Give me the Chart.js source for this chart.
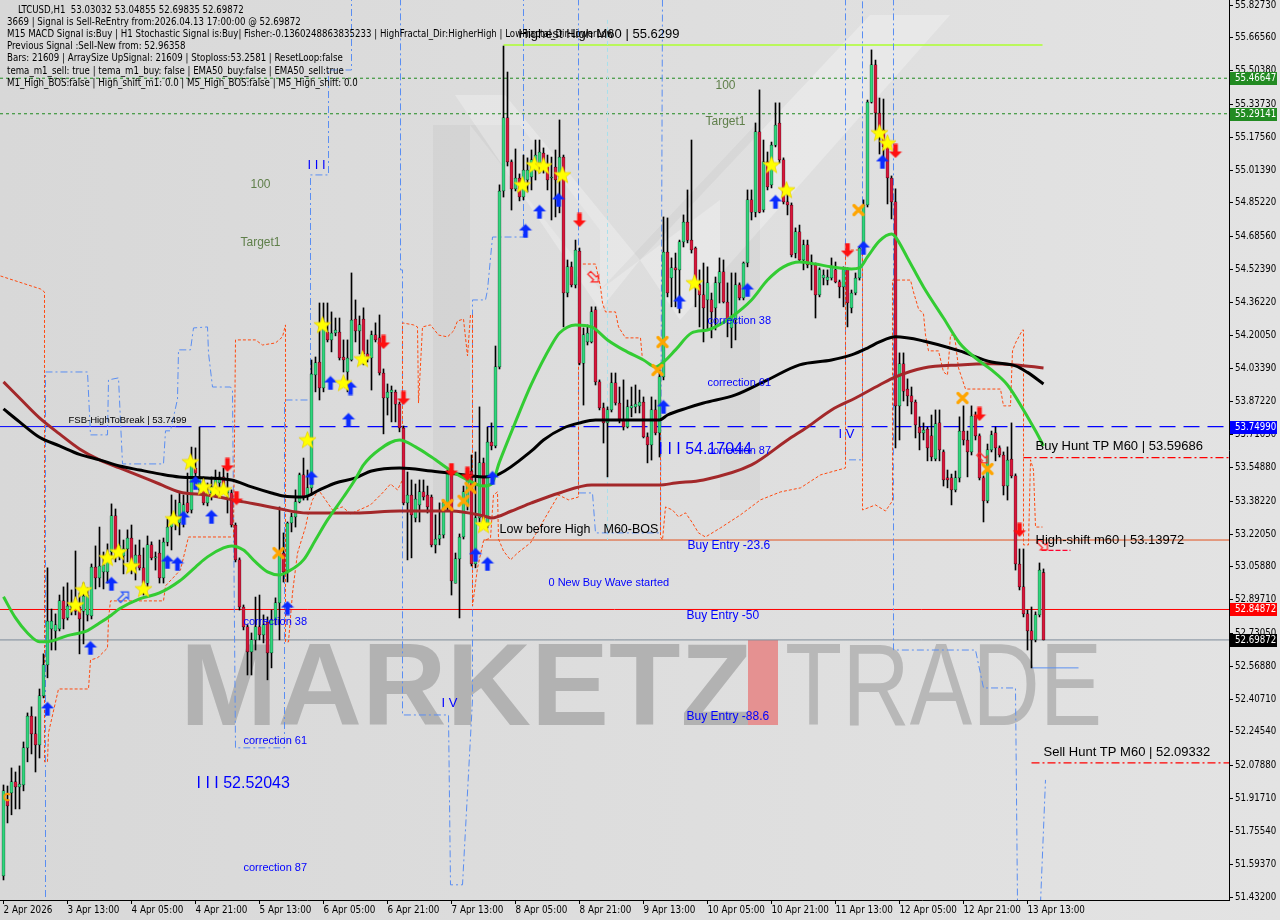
<!DOCTYPE html>
<html><head><meta charset="utf-8">
<script src="https://cdn.jsdelivr.net/npm/chart.js@4.4.1/dist/chart.umd.min.js"></script>
<style>html,body{margin:0;padding:0;background:#dcdcdc;overflow:hidden}#wrap{width:1280px;height:920px}</style>
</head><body><div id="wrap"><canvas id="c" width="1280" height="920"></canvas></div>
<script>
// ---------- DATA ----------
const candleOpen = [51.536,51.910,51.945,51.999,51.974,51.984,52.167,52.324,52.236,52.181,52.423,52.576,52.753,52.743,52.753,52.891,52.807,52.861,52.901,52.861,52.841,52.822,52.817,53.058,53.004,53.034,53.034,53.132,53.310,53.137,53.113,53.147,53.201,53.073,53.117,53.054,52.979,53.167,53.103,53.127,53.004,53.181,53.255,53.310,53.275,53.315,53.374,53.339,53.546,53.438,53.453,53.374,53.423,53.438,53.472,53.502,53.423,53.423,53.265,53.093,52.861,52.763,52.640,52.699,52.763,52.724,52.787,52.635,52.797,52.881,53.127,53.043,53.275,53.305,53.379,53.512,53.403,53.448,54.004,54.068,53.940,54.216,54.177,54.211,54.216,54.093,54.019,54.078,54.280,54.221,54.280,54.108,54.088,54.202,54.187,54.014,53.891,53.920,53.920,53.861,53.743,53.374,53.413,53.300,53.364,53.428,53.413,53.403,53.167,53.196,53.216,53.374,53.526,52.979,53.098,53.206,53.364,53.531,53.073,53.300,53.571,53.260,53.674,53.655,54.044,54.911,55.271,55.054,54.921,54.975,54.882,54.965,54.980,55.014,55.049,55.098,55.029,54.975,55.029,54.980,55.078,54.408,54.537,54.448,54.615,54.063,54.167,54.167,54.325,53.970,53.842,53.768,53.832,53.965,53.866,53.783,53.748,53.842,53.847,53.852,53.871,53.699,53.659,53.832,53.719,53.995,54.610,54.482,54.532,54.522,54.660,54.758,54.669,54.630,54.448,54.399,54.374,54.374,54.335,54.458,54.512,54.364,54.236,54.275,54.448,54.384,54.556,54.867,54.807,55.202,54.817,55.054,54.941,55.137,55.246,55.064,54.857,54.842,54.605,54.709,54.571,54.645,54.546,54.546,54.399,54.482,54.472,54.482,54.522,54.463,54.438,54.522,54.335,54.408,54.482,54.630,54.842,55.349,55.532,55.295,55.211,55.128,54.975,54.857,53.852,54.059,53.935,53.901,53.871,53.748,53.719,53.738,53.704,53.591,53.768,53.625,53.497,53.497,53.438,53.497,53.728,53.684,53.625,53.802,53.704,53.497,53.384,53.635,53.719,53.645,53.610,53.457,53.590,53.507,53.073,52.960,52.827,52.743,52.699,52.822,53.03032];
const candleHigh = [51.984,51.979,52.068,52.048,52.078,52.196,52.339,52.369,52.320,52.457,52.630,53.054,52.851,52.827,52.920,52.960,52.980,52.945,53.137,52.930,52.980,52.955,53.073,53.162,53.255,53.132,53.172,53.369,53.344,53.241,53.191,53.241,53.265,53.167,53.191,53.152,53.211,53.182,53.132,53.191,53.201,53.295,53.413,53.388,53.423,53.413,53.521,53.649,53.645,53.748,53.502,53.472,53.502,53.536,53.526,53.546,53.521,53.438,53.275,53.103,52.871,52.773,52.733,52.910,52.920,52.822,52.812,52.846,52.906,53.354,53.226,53.280,53.324,53.438,53.521,53.595,53.536,54.078,54.093,54.359,54.359,54.359,54.315,54.285,54.285,54.177,54.177,54.507,54.374,54.295,54.335,54.177,54.221,54.261,54.300,54.034,53.960,53.950,53.930,53.871,53.753,53.526,53.487,53.467,53.487,53.487,53.457,53.413,53.315,53.374,53.388,53.536,53.536,53.127,53.221,53.457,53.546,53.610,53.625,53.847,53.595,53.748,53.768,54.147,54.941,55.625,55.497,55.064,55.118,54.995,55.088,55.074,55.113,55.162,55.162,55.123,55.088,55.078,55.113,55.261,55.088,54.571,54.561,54.669,54.630,54.236,54.251,54.340,54.340,53.980,53.866,53.847,54.014,54.014,53.945,53.980,53.881,53.945,53.955,53.930,53.896,53.719,53.896,53.881,54.029,54.783,54.778,54.581,54.605,54.669,54.793,54.916,55.162,54.635,54.522,54.556,54.537,54.408,54.487,54.581,54.571,54.458,54.507,54.507,54.458,54.561,54.916,54.916,55.246,55.409,55.162,55.103,55.152,55.345,55.345,55.074,54.916,54.852,54.729,54.743,54.669,54.669,54.596,54.556,54.532,54.522,54.522,54.581,54.561,54.472,54.537,54.532,54.423,54.507,54.635,54.867,55.359,55.606,55.556,55.369,55.364,55.147,54.985,54.921,54.113,54.113,53.985,53.945,53.881,53.798,53.768,53.748,53.807,53.832,53.832,53.635,53.536,53.516,53.531,53.798,53.852,53.728,53.852,53.822,53.714,53.507,53.664,53.728,53.748,53.655,53.625,53.650,53.768,53.517,53.147,53.147,52.846,52.861,52.837,53.078,53.04855];
const candleLow = [51.516,51.797,51.837,51.866,51.866,51.955,52.098,52.137,52.048,52.117,52.413,52.512,52.649,52.649,52.743,52.753,52.797,52.822,52.822,52.630,52.679,52.792,52.802,52.950,52.960,52.950,52.979,53.098,53.083,53.093,53.024,53.083,53.024,52.994,53.043,52.920,52.960,53.093,53.043,52.979,52.979,53.162,53.142,53.241,53.216,53.255,53.324,53.324,53.453,53.423,53.364,53.359,53.388,53.403,53.423,53.423,53.324,53.255,53.083,52.846,52.748,52.526,52.526,52.649,52.699,52.684,52.502,52.561,52.773,52.699,52.984,52.984,53.231,53.255,53.374,53.388,53.388,53.413,53.921,53.881,53.921,54.167,54.118,54.197,54.078,54.019,53.921,54.073,54.167,54.108,54.054,54.068,53.930,54.167,54.004,53.714,53.807,53.773,53.773,53.724,53.364,53.093,53.103,53.280,53.280,53.388,53.324,53.157,53.127,53.167,53.201,53.334,52.920,52.979,52.807,53.196,53.339,53.063,53.054,53.280,53.251,53.251,53.635,53.645,54.034,54.881,55.034,54.817,54.911,54.862,54.867,54.906,54.916,54.965,54.999,54.999,54.916,54.768,54.783,54.803,54.241,54.389,54.438,54.433,54.054,53.856,54.152,54.162,53.955,53.832,53.669,53.502,53.822,53.856,53.768,53.733,53.743,53.798,53.817,53.817,53.694,53.571,53.585,53.709,53.600,53.980,54.389,54.340,54.340,54.310,54.635,54.655,54.605,54.340,54.241,54.167,54.226,54.187,54.226,54.359,54.359,54.192,54.138,54.177,54.374,54.374,54.537,54.768,54.783,54.803,54.807,54.916,54.926,55.128,55.049,54.847,54.793,54.586,54.581,54.561,54.522,54.532,54.423,54.285,54.389,54.448,54.448,54.472,54.458,54.384,54.340,54.241,54.310,54.399,54.472,54.620,54.832,55.344,55.196,55.093,55.054,54.847,54.773,53.645,53.684,53.876,53.852,53.812,53.694,53.635,53.684,53.581,53.581,53.581,53.581,53.457,53.448,53.364,53.428,53.477,53.659,53.502,53.610,53.684,53.487,53.280,53.374,53.625,53.581,53.600,53.413,53.388,53.497,53.043,52.945,52.812,52.649,52.561,52.689,52.812,52.69835];
const candleClose = [51.955,51.881,51.999,51.974,51.989,52.167,52.324,52.236,52.181,52.423,52.576,52.792,52.792,52.773,52.891,52.802,52.866,52.881,52.841,52.802,52.915,52.920,53.058,53.004,53.063,53.068,53.122,53.310,53.137,53.162,53.147,53.201,53.073,53.117,53.054,52.979,53.167,53.103,53.108,53.004,53.181,53.255,53.310,53.285,53.374,53.364,53.329,53.571,53.521,53.502,53.374,53.423,53.453,53.487,53.502,53.438,53.438,53.265,53.093,52.861,52.763,52.640,52.699,52.763,52.724,52.773,52.635,52.797,52.881,53.127,53.034,53.275,53.305,53.379,53.512,53.403,53.448,54.009,54.064,53.940,54.266,54.177,54.211,54.226,54.088,54.078,54.088,54.275,54.221,54.251,54.108,54.088,54.202,54.177,54.014,53.891,53.920,53.930,53.861,53.743,53.374,53.413,53.315,53.393,53.428,53.403,53.354,53.167,53.196,53.216,53.374,53.521,52.989,53.098,53.206,53.428,53.531,53.073,53.300,53.571,53.260,53.674,53.655,54.044,54.911,55.271,55.054,54.921,54.975,54.882,55.014,55.014,55.064,55.088,55.103,55.014,54.965,54.980,54.965,55.078,54.408,54.537,54.448,54.620,54.063,54.202,54.211,54.315,53.970,53.842,53.768,53.832,53.965,53.866,53.783,53.748,53.847,53.852,53.861,53.871,53.699,53.659,53.832,53.719,53.995,54.610,54.408,54.532,54.522,54.660,54.758,54.669,54.620,54.448,54.399,54.335,54.458,54.315,54.458,54.512,54.364,54.275,54.290,54.448,54.384,54.556,54.867,54.807,55.202,54.807,55.054,54.931,55.137,55.236,55.064,54.857,54.842,54.596,54.709,54.571,54.645,54.546,54.561,54.399,54.522,54.497,54.487,54.532,54.463,54.438,54.522,54.359,54.408,54.482,54.630,54.842,55.349,55.532,55.295,55.211,55.128,54.975,54.857,53.852,54.059,53.925,53.901,53.871,53.758,53.719,53.733,53.645,53.601,53.763,53.635,53.487,53.487,53.438,53.497,53.728,53.684,53.625,53.802,53.704,53.497,53.384,53.635,53.709,53.645,53.610,53.457,53.585,53.507,53.073,52.960,52.827,52.743,52.699,52.822,53.043,52.69872];

const timeTickIndex = [0,16,32,48,64,80,96,112,128,144,160,176,192,208,224,240,256];
const timeTickLabels = ['2 Apr 2026','3 Apr 13:00','4 Apr 05:00','4 Apr 21:00','5 Apr 13:00','6 Apr 05:00','6 Apr 21:00','7 Apr 13:00','8 Apr 05:00','8 Apr 21:00','9 Apr 13:00','10 Apr 05:00','10 Apr 21:00','11 Apr 13:00','12 Apr 05:00','12 Apr 21:00','13 Apr 13:00'];
const priceTicks = [55.82730,55.66560,55.50380,55.33730,55.17560,55.01390,54.85220,54.68560,54.52390,54.36220,54.20050,54.03390,53.87220,53.71050,53.54880,53.38220,53.22050,53.05880,52.89710,52.73050,52.56880,52.40710,52.24540,52.07880,51.91710,51.75540,51.59370,51.43200];

const greenEMA = [[0,52.911],[3,52.807],[6,52.733],[9,52.690],[11,52.690],[16,52.720],[21,52.745],[24,52.782],[27,52.822],[29,52.852],[34,52.901],[39,52.930],[44,52.989],[48,53.058],[51,53.108],[55,53.152],[57,53.162],[60,53.142],[63,53.083],[66,53.034],[69,53.019],[71,53.034],[75,53.093],[78,53.191],[81,53.290],[85,53.403],[88,53.492],[90,53.561],[94,53.637],[99,53.684],[103,53.650],[107,53.600],[112,53.531],[116,53.487],[120,53.457],[122,53.467],[124,53.576],[128,53.773],[132,53.960],[137,54.152],[139,54.211],[143,54.251],[147,54.241],[151,54.177],[155,54.128],[160,54.078],[163,54.044],[165,54.068],[168,54.128],[172,54.211],[176,54.226],[178,54.241],[182,54.290],[187,54.374],[191,54.472],[195,54.537],[199,54.561],[203,54.551],[207,54.537],[212,54.527],[214,54.532],[216,54.586],[219,54.665],[222,54.699],[223,54.684],[226,54.581],[230,54.438],[235,54.285],[239,54.162],[243,54.088],[247,54.029],[251,53.955],[255,53.832],[258,53.729],[260,53.655]];
const blackMA = [[0,53.837],[4,53.773],[9,53.697],[14,53.655],[19,53.613],[24,53.586],[29,53.556],[34,53.536],[39,53.517],[44,53.502],[51,53.497],[57,53.487],[62,53.453],[67,53.423],[70,53.408],[75,53.403],[79,53.438],[83,53.472],[88,53.497],[92,53.531],[99,53.546],[107,53.531],[117,53.507],[120,53.502],[124,53.517],[132,53.630],[135,53.684],[140,53.743],[144,53.768],[148,53.783],[155,53.783],[164,53.783],[166,53.807],[171,53.842],[175,53.866],[183,53.906],[191,53.980],[199,54.054],[207,54.078],[212,54.103],[216,54.137],[219,54.167],[223,54.192],[230,54.172],[239,54.123],[247,54.068],[253,54.049],[256,54.017],[260,53.960]];
const brownMA = [[0,53.970],[4,53.891],[9,53.793],[14,53.714],[19,53.640],[24,53.586],[29,53.546],[34,53.507],[39,53.467],[44,53.428],[51,53.413],[60,53.379],[68,53.349],[76,53.324],[83,53.324],[88,53.324],[99,53.334],[112,53.334],[120,53.310],[122,53.300],[127,53.334],[132,53.374],[139,53.423],[147,53.462],[155,53.462],[164,53.462],[168,53.472],[175,53.487],[187,53.561],[196,53.684],[201,53.748],[207,53.832],[213,53.891],[219,53.955],[223,53.995],[230,54.039],[239,54.054],[247,54.059],[253,54.054],[260,54.039]];

const orangeTrail = [[-0.75,54.492],[9.25,54.428],[10.25,54.413],[10.25,52.098],[11,52.098],[11.25,52.241],[13.75,52.457],[21.25,52.457],[21.75,52.600],[23.5,52.610],[26,52.659],[26.25,52.802],[26.75,52.891],[40,52.891],[40.5,52.965],[44.25,53.044],[46.25,53.206],[57.5,53.206],[58,54.177],[63,54.177],[64.75,54.152],[68,54.162],[69.75,54.192],[70.5,54.251],[70.5,52.689],[71.25,52.689],[72.25,52.930],[73.5,53.127],[75.5,53.255],[76.25,53.324],[77.25,53.389],[78.75,53.438],[80.5,53.389],[82.25,53.339],[84.75,53.354],[86.75,53.320],[91.75,53.364],[95,53.428],[96.75,53.467],[98.5,53.438],[99.75,53.487],[99.75,54.261],[102.5,54.251],[103.5,54.241],[103.75,53.866],[104.75,54.241],[106.75,54.251],[108.75,54.201],[111,54.192],[112.5,54.221],[113.5,54.270],[115,54.280],[116,54.098],[116.75,54.300],[117.25,54.300],[117.25,52.866],[118.5,53.053],[120,53.187],[121.75,53.201],[122.5,53.413],[123.5,53.428],[123.75,53.196],[125,53.137],[126.75,53.093],[128.5,53.127],[131.75,53.177],[138.75,53.413],[141.25,53.389],[143.75,53.403],[143.75,54.551],[148,54.551],[148.5,54.507],[149.25,54.438],[149.75,54.359],[150.5,54.315],[153,54.315],[153.75,54.241],[155.5,54.187],[159.25,54.187],[159.75,54.078],[162.25,54.054],[164.25,54.029],[164.25,53.206],[164.75,53.191],[165.5,53.354],[167.25,53.339],[168.75,53.305],[170.5,53.325],[172.25,53.275],[173.75,53.226],[175.5,53.206],[179.25,53.251],[184.25,53.315],[189.25,53.389],[194.25,53.428],[199.25,53.448],[204.25,53.512],[210.5,53.546],[210.5,54.620],[214.75,54.620],[214.75,53.339],[218,53.364],[220.5,53.334],[222.25,53.384],[222.25,54.472],[226.75,54.472],[227.5,54.413],[228.75,54.330],[230,54.305],[230.5,54.201],[231.25,54.123],[233.75,54.123],[235,54.019],[236,54.004],[236.75,54.201],[237.5,54.201],[238,54.162],[238.75,54.039],[240.5,53.935],[249.25,53.935],[250,53.852],[251.75,53.852],[252.25,54.123],[253,54.162],[254.75,54.226],[255,54.226],[255,53.167],[256.25,53.167],[256.75,53.586],[257.5,53.536],[258,53.255],[259.75,53.255]];
const blueTrail = [[10.5,51.432],[10.5,54.019],[21,54.019],[21.75,53.709],[26,53.709],[26.25,53.980],[28.75,53.990],[29.75,53.566],[40,53.566],[40.5,53.729],[41.75,53.729],[43.5,53.886],[43.75,54.128],[46.75,54.128],[47.5,54.236],[51,54.241],[51.25,54.113],[52.25,53.945],[56.75,53.945],[57.25,53.930],[58,52.167],[70.25,52.167],[70.25,53.881],[76.75,53.881],[76.75,54.990],[81.25,54.990],[81.25,55.507],[87,55.507],[87,55.86],[87.5,null],[99.25,55.86],[99.25,54.522],[99.75,54.522],[99.75,52.329],[111.25,52.329],[111.75,51.492],[114.75,51.492],[117.25,52.403],[117.25,54.374],[120.5,54.374],[121,54.423],[122.25,54.684],[130,54.684],[130,55.86],[131,null],[143.75,55.86],[143.75,53.423],[147.25,53.423],[148,53.226],[164.25,53.226],[164.75,55.86],[165,null],[210.5,55.86],[210.5,53.586],[214.75,53.586],[214.75,55.86],[215,null],[222.5,55.86],[222.5,52.649],[243,52.649],[245,52.462],[253,52.462],[253.5,51.40],[254,null],[259.25,51.40],[260.5,52.009]];

const starMarks = [[18,52.871],[20,52.945],[26,53.103],[28.75,53.132],[32,53.063],[35,52.950],[42.5,53.295],[46.75,53.576],[50,53.453],[53,53.438],[55,53.438],[76,53.684],[79.75,54.251],[85,53.965],[89.75,54.083],[120,53.265],[129.75,54.941],[132.75,55.039],[135,55.034],[139.75,54.990],[172.75,54.458],[192,55.039],[195.75,54.916],[219,55.197],[221,55.147]];
const buyArrows = [[11,52.359],[21.75,52.659],[27,52.975],[41,53.083],[43.5,53.073],[45,53.300],[48,53.472],[52,53.305],[71,52.856],[77,53.497],[81.75,53.965],[86.25,53.783],[86.75,53.940],[118,53.118],[121,53.073],[122.25,53.497],[130.5,54.714],[134,54.808],[138.75,54.867],[165,53.847],[169,54.364],[186,54.423],[193,54.857],[215,54.630],[219.75,55.054]];
const sellArrows = [[56,53.561],[58.25,53.398],[95,54.167],[100,53.891],[112,53.536],[116,53.517],[144,54.768],[211,54.620],[223,55.108],[244,53.812],[254,53.241]];
const crossMarks = [[68.75,53.127],[111,53.364],[115,53.384],[116.75,53.448],[163.5,54.029],[164.75,54.167],[213.75,54.817],[239.75,53.891],[246,53.541]];
const hollowSell = [[147.5,54.487],[244.75,53.595],[259.75,53.167]];
const hollowBuy = [[30,52.911]];
const ringMarks = [[1,51.925]];

const levelTarget100 = 55.46647, levelTarget1 = 55.29141, levelFSB = 53.74990, levelRed = 52.84872, levelBid = 52.69872;
const levelBuyHunt = 53.59686, levelSellHunt = 52.09332, levelHighShift = 53.13972, levelHighest = 55.6299, levelEntry = 53.191, levelLow = 52.561;

// ---------- BUILD ----------
const X0 = -0.875, X1 = 306.375;
const N = candleOpen.length;
const idx = Array.from({length:N},(_,i)=>i);
const wickData = idx.map(i=>({x:i,y:[candleLow[i],candleHigh[i]]}));
const bodyData = idx.map(i=>({x:i,y:[candleOpen[i],candleClose[i]]}));
const bodyColors = idx.map(i=> candleClose[i] >= candleOpen[i] ? '#2fd67c' : '#d8163a');
const pts = a => a.map(p=>({x:p[0],y:p[1]}));
const hline = (y,a,b) => [{x:a,y:y},{x:b,y:y}];

function mkStar(){const c=document.createElement('canvas');c.width=19;c.height=19;const g=c.getContext('2d');g.beginPath();for(let k=0;k<10;k++){const r=k%2?3.8:9;const a=-Math.PI/2+k*Math.PI/5;g.lineTo(9.5+r*Math.cos(a),10+r*Math.sin(a));}g.closePath();g.fillStyle='#ffff00';g.fill();g.strokeStyle='#e8d000';g.lineWidth=0.7;g.stroke();return c;}
function mkArrow(color,down){const c=document.createElement('canvas');c.width=14;c.height=15;const g=c.getContext('2d');if(down){g.translate(0,15);g.scale(1,-1);}g.beginPath();g.moveTo(7,0.5);g.lineTo(13.5,7);g.lineTo(9.3,7);g.lineTo(9.3,14.5);g.lineTo(4.7,14.5);g.lineTo(4.7,7);g.lineTo(0.5,7);g.closePath();g.fillStyle=color;g.fill();return c;}
function mkHollow(color,down){const c=document.createElement('canvas');c.width=16;c.height=16;const g=c.getContext('2d');g.translate(8,8);g.rotate(down?Math.PI*0.75:Math.PI*0.25);g.beginPath();g.moveTo(0,-7);g.lineTo(5,-2);g.lineTo(2,-2);g.lineTo(2,6);g.lineTo(-2,6);g.lineTo(-2,-2);g.lineTo(-5,-2);g.closePath();g.strokeStyle=color;g.lineWidth=1.2;g.stroke();return c;}
function mkCross(){const c=document.createElement('canvas');c.width=14;c.height=14;const g=c.getContext('2d');g.strokeStyle='#ffa500';g.lineWidth=3.2;g.lineCap='round';g.beginPath();g.moveTo(2.5,2.5);g.lineTo(11.5,11.5);g.moveTo(11.5,2.5);g.lineTo(2.5,11.5);g.stroke();return c;}
function mkRing(){const c=document.createElement('canvas');c.width=10;c.height=10;const g=c.getContext('2d');g.strokeStyle='#ff9a00';g.lineWidth=2;g.beginPath();g.arc(5,5,3.2,0.3*Math.PI,1.8*Math.PI);g.stroke();return c;}

const starImg=mkStar(), buyImg=mkArrow('#0a2cff',false), sellImg=mkArrow('#ff1010',true), crossImg=mkCross();
const hollowSellImg=mkHollow('#ff2020',true), hollowBuyImg=mkHollow('#2050ff',false), ringImg=mkRing();

function lineDS(data,color,width,dash,order,extra){return Object.assign({type:'line',data:data,borderColor:color,borderWidth:width,borderDash:dash||[],pointRadius:0,fill:false,order:order,spanGaps:false,tension:0},extra||{});}
function markDS(data,img,order){return {type:'line',data:pts(data),showLine:false,pointStyle:img,pointRadius:6,pointHoverRadius:6,order:order};}

const datasets = [
  lineDS(hline(levelTarget100,X0,X1),'#1f8a1f',1,[3,3],20),
  lineDS(hline(levelTarget1,X0,X1),'#1f8a1f',1,[3,3],20),
  lineDS(hline(levelFSB,X0,43),'#0000ff',1,[],20),
  lineDS(hline(levelFSB,43,X1),'#0000ff',1.2,[16,8],20),
  lineDS(hline(levelRed,X0,X1),'#ff0000',1,[],20),
  lineDS(hline(levelBid,X0,X1),'#7d8b99',1,[],20),
  lineDS(hline(levelEntry,120,X1),'#e2521e',1,[],20),
  lineDS(hline(levelBuyHunt,255,X1),'#ff0000',1.2,[8,3,2,3],20),
  lineDS(hline(levelSellHunt,257,X1),'#ff0000',1.2,[8,3,2,3],20),
  lineDS(hline(levelHighShift,259.5,266.75),'#ff0030',1.2,[5,2],20),
  lineDS(hline(levelHighest,125,259.75),'#adff2f',1.5,[],20),
  lineDS(hline(levelLow,257,268.75),'#5b8ff0',1,[],20),
  lineDS([{x:151,y:55.754},{x:151,y:53.191}],'#a8e0ec',1,[4,3],19),
  lineDS(pts(blueTrail),'#5a8ef2',1,[7,3,2,3],18),
  lineDS(pts(orangeTrail),'#ff4a10',1,[3,2],17),
  {type:'bar',data:wickData,backgroundColor:'#000000',barThickness:1,grouped:false,order:12,borderWidth:0},
  {type:'bar',data:bodyData,backgroundColor:bodyColors,borderColor:'#000000',borderWidth:0.5,borderSkipped:false,barThickness:3,grouped:false,order:11,minBarLength:1},
  lineDS(pts(brownMA),'#a3282a',3,[],6,{cubicInterpolationMode:'monotone'}),
  lineDS(pts(blackMA),'#000000',3,[],5,{cubicInterpolationMode:'monotone'}),
  lineDS(pts(greenEMA),'#33cc33',3,[],4,{cubicInterpolationMode:'monotone'}),
  markDS(ringMarks,ringImg,2),
  markDS(crossMarks,crossImg,2),
  markDS(hollowSell,hollowSellImg,2),
  markDS(hollowBuy,hollowBuyImg,2),
  markDS(buyArrows,buyImg,1),
  markDS(sellArrows,sellImg,1),
  markDS(starMarks,starImg,0)
];

const annotations = [
  ['correction 38',60,52.787,'#0000ff','11px'],['correction 61',60,52.201,'#0000ff','11px'],['correction 87',60,51.576,'#0000ff','11px'],
  ['correction 38',176,54.270,'#0000ff','11px'],['correction 61',176,53.965,'#0000ff','11px'],['correction 87',176,53.630,'#0000ff','11px'],
  ['I I I 52.52043',48.25,51.989,'#0000ff','16px'],['I I I 54.17044',163.75,53.635,'#0000ff','16px'],
  ['0 New Buy Wave started',136.25,52.980,'#0000ff','11px'],
  ['Buy Entry -23.6',171,53.162,'#0000ff','12px'],['Buy Entry -50',170.75,52.817,'#0000ff','12px'],['Buy Entry -88.6',170.75,52.319,'#0000ff','12px'],
  ['I V',109.5,52.384,'#0000ff','13px'],['I V',208.75,53.709,'#0000ff','13px'],['I I I',76,55.039,'#0000ff','13px'],
  ['100',61.75,54.940,'#5f7f4a','12px'],['Target1',59.25,54.655,'#5f7f4a','12px'],['100',178,55.428,'#5f7f4a','12px'],['Target1',175.5,55.251,'#5f7f4a','12px'],
  ['Low before High',124,53.241,'#000000','12.5px'],['M60-BOS',150,53.241,'#000000','12.5px'],
  ['FSB-HighToBreak | 53.7499',16.25,53.783,'#000000','9.5px'],
  ['Highest High M60 | 55.6299',128.75,55.680,'#000000','13px'],
  ['Buy Hunt TP M60 | 53.59686',258,53.650,'#000000','13px'],
  ['High-shift m60 | 53.13972',258,53.187,'#000000','13px'],
  ['Sell Hunt TP M60 | 52.09332',260,52.142,'#000000','13px']
];
const infoLines = [
  'LTCUSD,H1  53.03032 53.04855 52.69835 52.69872',
  '3669 | Signal is Sell-ReEntry from:2026.04.13 17:00:00 @ 52.69872',
  'M15 MACD Signal is:Buy | H1 Stochastic Signal is:Buy| Fisher:-0.1360248863835233 | HighFractal_Dir:HigherHigh | LowFractal_Dir:LowerLow',
  'Previous Signal :Sell-New from: 52.96358',
  'Bars: 21609 | ArraySize UpSignal: 21609 | Stoploss:53.2581 | ResetLoop:false',
  'tema_m1_sell: true | tema_m1_buy: false | EMA50_buy:false | EMA50_sell:true',
  'M1_High_BOS:false | High_shift_m1: 0.0 | M5_High_BOS:false | M5_High_shift: 0.0'
];
const axisBoxes = [[levelTarget100,'#228b22'],[levelTarget1,'#228b22'],[levelFSB,'#0000ff'],[levelRed,'#ff0000'],[levelBid,'#000000']];

const FONT = "'Liberation Sans', Arial, sans-serif";
const SMALL = "'DejaVu Sans Condensed', 'Liberation Sans', Arial, sans-serif";
const noPad = s => { s.paddingLeft = 0; s.paddingRight = 0; s.paddingTop = 0; s.paddingBottom = 0; };
const deco = {
  id:'deco',
  beforeDraw(chart){
    const c=chart.ctx; const g=c.createLinearGradient(0,0,1280,0);
    g.addColorStop(0,'#d8d8d8'); g.addColorStop(1,'#e3e3e3');
    c.save(); c.fillStyle=g; c.fillRect(0,0,1280,920); c.restore();
  },
  beforeDatasetsDraw(chart){
    const c=chart.ctx, a=chart.chartArea; c.save();
    c.beginPath(); c.rect(a.left,a.top,a.right-a.left,a.bottom-a.top); c.clip();
    c.fillStyle='rgba(0,0,0,0.035)';
    c.beginPath(); c.moveTo(433,125); c.lineTo(470,125); c.lineTo(470,500); c.lineTo(433,500); c.closePath(); c.fill();
    c.beginPath(); c.moveTo(470,125); c.lineTo(520,125); c.lineTo(600,230); c.lineTo(600,290); c.closePath(); c.fill();
    c.fillStyle='rgba(255,255,255,0.28)';
    c.beginPath(); c.moveTo(455,95); c.lineTo(505,95); c.lineTo(640,260); c.lineTo(600,310); c.closePath(); c.fill();
    c.beginPath(); c.moveTo(640,260); c.lineTo(870,15); c.lineTo(950,15); c.lineTo(680,320); c.closePath(); c.fill();
    c.fillStyle='rgba(0,0,0,0.03)';
    c.beginPath(); c.moveTo(600,290); c.lineTo(760,120); c.lineTo(760,500); c.lineTo(720,500); c.lineTo(720,200); c.closePath(); c.fill();
    c.textBaseline='alphabetic';
    c.fillStyle='#b2b2b2'; c.font='bold 117px '+FONT; c.fillText('MARKETZ',180,725);
    c.fillStyle='#e59191'; c.fillRect(748,640,30,85);
    c.save(); c.translate(785,725); c.scale(0.8,1); c.fillStyle='#b8b8b8'; c.font='117px '+FONT; c.fillText('TRADE',0,0); c.restore();
    c.restore();
  },
  afterDatasetsDraw(chart){
    const c=chart.ctx, xs=chart.scales.x, ys=chart.scales.y; c.save();
    c.textBaseline='middle'; c.textAlign='left';
    annotations.forEach(t=>{c.fillStyle=t[3]; c.font=t[4]+' '+FONT; c.fillText(t[0],xs.getPixelForValue(t[1]),ys.getPixelForValue(t[2]));});
    c.fillStyle='#000'; c.font='9.6px '+SMALL;
    infoLines.forEach((s,k)=>{c.fillText(s,k===0?18:7,10+k*12.2);});
    c.restore();
  },
  afterDraw(chart){
    const c=chart.ctx, ys=chart.scales.y; c.save();
    c.font='9.6px '+SMALL; c.textBaseline='middle'; c.textAlign='left';
    axisBoxes.forEach(b=>{const y=Math.round(ys.getPixelForValue(b[0])); c.fillStyle=b[1]; c.fillRect(1230,y-6,47,13); c.fillStyle='#ffffff'; c.fillText(b[0].toFixed(5),1235,y+0.5);});
    c.restore();
  }
};

new Chart(document.getElementById('c'),{
  type:'bar',
  data:{datasets:datasets},
  options:{
    responsive:false, animation:false, devicePixelRatio:1, events:[],
    layout:{padding:0, autoPadding:false},
    plugins:{legend:{display:false},tooltip:{enabled:false}},
    scales:{
      x:{type:'linear',min:X0,max:X1,offset:false,position:'bottom',
        grid:{drawOnChartArea:false,drawTicks:true,tickLength:4,color:'#000',offset:false},
        border:{display:true,color:'#000',width:1},
        afterBuildTicks:s=>{s.ticks=timeTickIndex.map(v=>({value:v}));},
        afterFit:s=>{s.height=20; noPad(s);},
        ticks:{autoSkip:false,maxRotation:0,align:'start',padding:1,color:'#000',font:{size:9.8,family:SMALL},
          callback:(v)=>{const k=timeTickIndex.indexOf(v);return k>=0?timeTickLabels[k]:'';}}},
      y:{type:'linear',position:'right',min:51.41722,max:55.85194,beginAtZero:false,
        grid:{drawOnChartArea:false,drawTicks:true,tickLength:4,color:'#000'},
        border:{display:true,color:'#000',width:1},
        afterBuildTicks:s=>{s.ticks=priceTicks.map(v=>({value:v}));},
        afterFit:s=>{s.width=51; noPad(s);},
        ticks:{padding:2,color:'#000',font:{size:9.6,family:SMALL},callback:v=>Number(v).toFixed(5)}}
    }
  },
  plugins:[deco]
});
</script></body></html>
